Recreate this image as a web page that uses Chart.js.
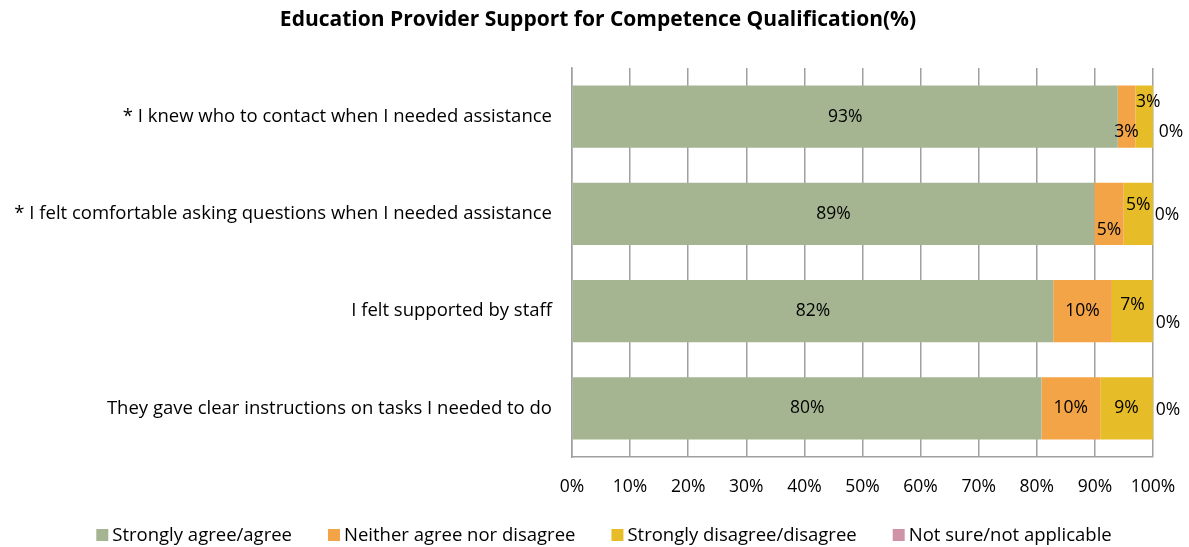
<!DOCTYPE html>
<html>
<head>
<meta charset="utf-8">
<title>Education Provider Support for Competence Qualification(%)</title>
<script src="https://cdn.jsdelivr.net/npm/chart.js@4/dist/chart.umd.min.js"></script>
<style>
  html, body { margin: 0; padding: 0; background: #ffffff; }
  #wrap { width: 1189px; height: 547px; position: relative; }
</style>
</head>
<body>
<div id="wrap"><canvas id="chart" width="1189" height="547"></canvas></div>
<script>
// Survey statements (rows) and the four response groups (percent of respondents)
const chartTitle = 'Education Provider Support for Competence Qualification(%)';
const categories = [
  '* I knew who to contact when I needed assistance',
  '* I felt comfortable asking questions when I needed assistance',
  'I felt supported by staff',
  'They gave clear instructions on tasks I needed to do'
];
const seriesNames = [
  'Strongly agree/agree',
  'Neither agree nor disagree',
  'Strongly disagree/disagree',
  'Not sure/not applicable'
];
const agree    = [93, 89, 82, 80];
const neutral  = [3, 5, 10, 10];
const disagree = [3, 5, 7, 9];
const notSure  = [0, 0, 0, 0];
const xTickValues = [0, 10, 20, 30, 40, 50, 60, 70, 80, 90, 100];

const seriesValues = [agree, neutral, disagree, notSure];
const seriesColors = ['#A5B592', '#F3A447', '#E7BC29', '#D092A7'];

// Each row is shown as a 100% stacked bar: shares of the row total
const rowTotals = categories.map((_, i) => seriesValues.reduce((s, arr) => s + arr[i], 0));
const toShare = arr => arr.map((v, i) => rowTotals[i] ? v / rowTotals[i] * 100 : 0);

// Hand-placed data label nudges [dx, dy] keyed "dataset,row"
const labelNudge = {
  '1,0': [0, 15],  '2,0': [4, -15], '3,0': [18, 15],
  '1,1': [0, 16],  '2,1': [0, -9],  '3,1': [14, 1],
  '2,2': [0, -6],  '3,2': [15, 12],
  '3,3': [15, 2]
};

const FONT = '"Open Sans", Lato, sans-serif';
const TEXT_SIZE = 18.5;   // category and legend text
const NUM_SIZE = 17.5;    // percentages

const titleBlock = {
  id: 'titleBlock',
  afterDraw(chart) {
    const ctx = chart.ctx;
    ctx.save();
    ctx.font = 'bold 21px ' + FONT;
    ctx.fillStyle = '#000000';
    ctx.textAlign = 'center';
    ctx.textBaseline = 'middle';
    ctx.fillText(chartTitle, 598, 20);
    ctx.restore();
  }
};

const valueLabels = {
  id: 'valueLabels',
  afterDatasetsDraw(chart) {
    const ctx = chart.ctx;
    ctx.save();
    ctx.font = NUM_SIZE + 'px ' + FONT;
    ctx.fillStyle = '#000000';
    ctx.textAlign = 'center';
    ctx.textBaseline = 'middle';
    chart.data.datasets.forEach((ds, di) => {
      chart.getDatasetMeta(di).data.forEach((bar, ri) => {
        const raw = seriesValues[di][ri];
        const n = labelNudge[di + ',' + ri] || [0, 0];
        const cx = (bar.x + bar.base) / 2 + n[0];
        const cy = bar.y + n[1];
        ctx.fillText(raw + '%', cx, cy);
      });
    });
    ctx.restore();
  }
};

const bottomLegend = {
  id: 'bottomLegend',
  afterDraw(chart) {
    const ctx = chart.ctx;
    ctx.save();
    ctx.font = TEXT_SIZE + 'px ' + FONT;
    ctx.textBaseline = 'middle';
    ctx.textAlign = 'left';
    const box = 12, gap = 4, spacing = 36, y = 535;
    const widths = seriesNames.map(t => box + gap + ctx.measureText(t).width);
    const total = widths.reduce((a, b) => a + b, 0) + spacing * (widths.length - 1);
    let x = 604 - total / 2;
    seriesNames.forEach((name, i) => {
      ctx.fillStyle = seriesColors[i];
      ctx.fillRect(x, y - box / 2, box, box);
      ctx.fillStyle = '#000000';
      ctx.fillText(name, x + box + gap, y + 1);
      x += widths[i] + spacing;
    });
    ctx.restore();
  }
};

new Chart(document.getElementById('chart'), {
  type: 'bar',
  data: {
    labels: categories,
    datasets: seriesNames.map((name, i) => ({
      label: name,
      data: toShare(seriesValues[i]),
      backgroundColor: seriesColors[i],
      borderWidth: 0,
      barPercentage: 0.64,
      categoryPercentage: 1.0
    }))
  },
  options: {
    indexAxis: 'y',
    responsive: false,
    animation: false,
    devicePixelRatio: 1,
    layout: { padding: { left: 0, right: 36, top: 68, bottom: 0 } },
    plugins: {
      legend: { display: false },
      tooltip: { enabled: false },
      title: { display: false }
    },
    scales: {
      x: {
        stacked: true,
        min: 0,
        max: 100,
        afterBuildTicks(scale) { scale.ticks = xTickValues.map(v => ({ value: v })); },
        afterFit(scale) {
          scale.height = 90;
          scale.paddingLeft = 0;
          scale.paddingRight = 0;
        },
        ticks: {
          color: '#000000',
          font: { family: FONT, size: NUM_SIZE },
          padding: 20,
          maxRotation: 0,
          callback: v => v + '%'
        },
        grid: { color: '#A0A0A0', lineWidth: 1.5, drawTicks: false },
        border: { color: '#A0A0A0', width: 1.5 }
      },
      y: {
        stacked: true,
        afterFit(scale) { scale.width = 572; },
        ticks: {
          color: '#000000',
          font: { family: FONT, size: TEXT_SIZE },
          padding: 20
        },
        grid: { display: false, drawTicks: false },
        border: { color: '#A0A0A0', width: 1.5 }
      }
    }
  },
  plugins: [valueLabels, titleBlock, bottomLegend]
});
</script>
</body>
</html>
